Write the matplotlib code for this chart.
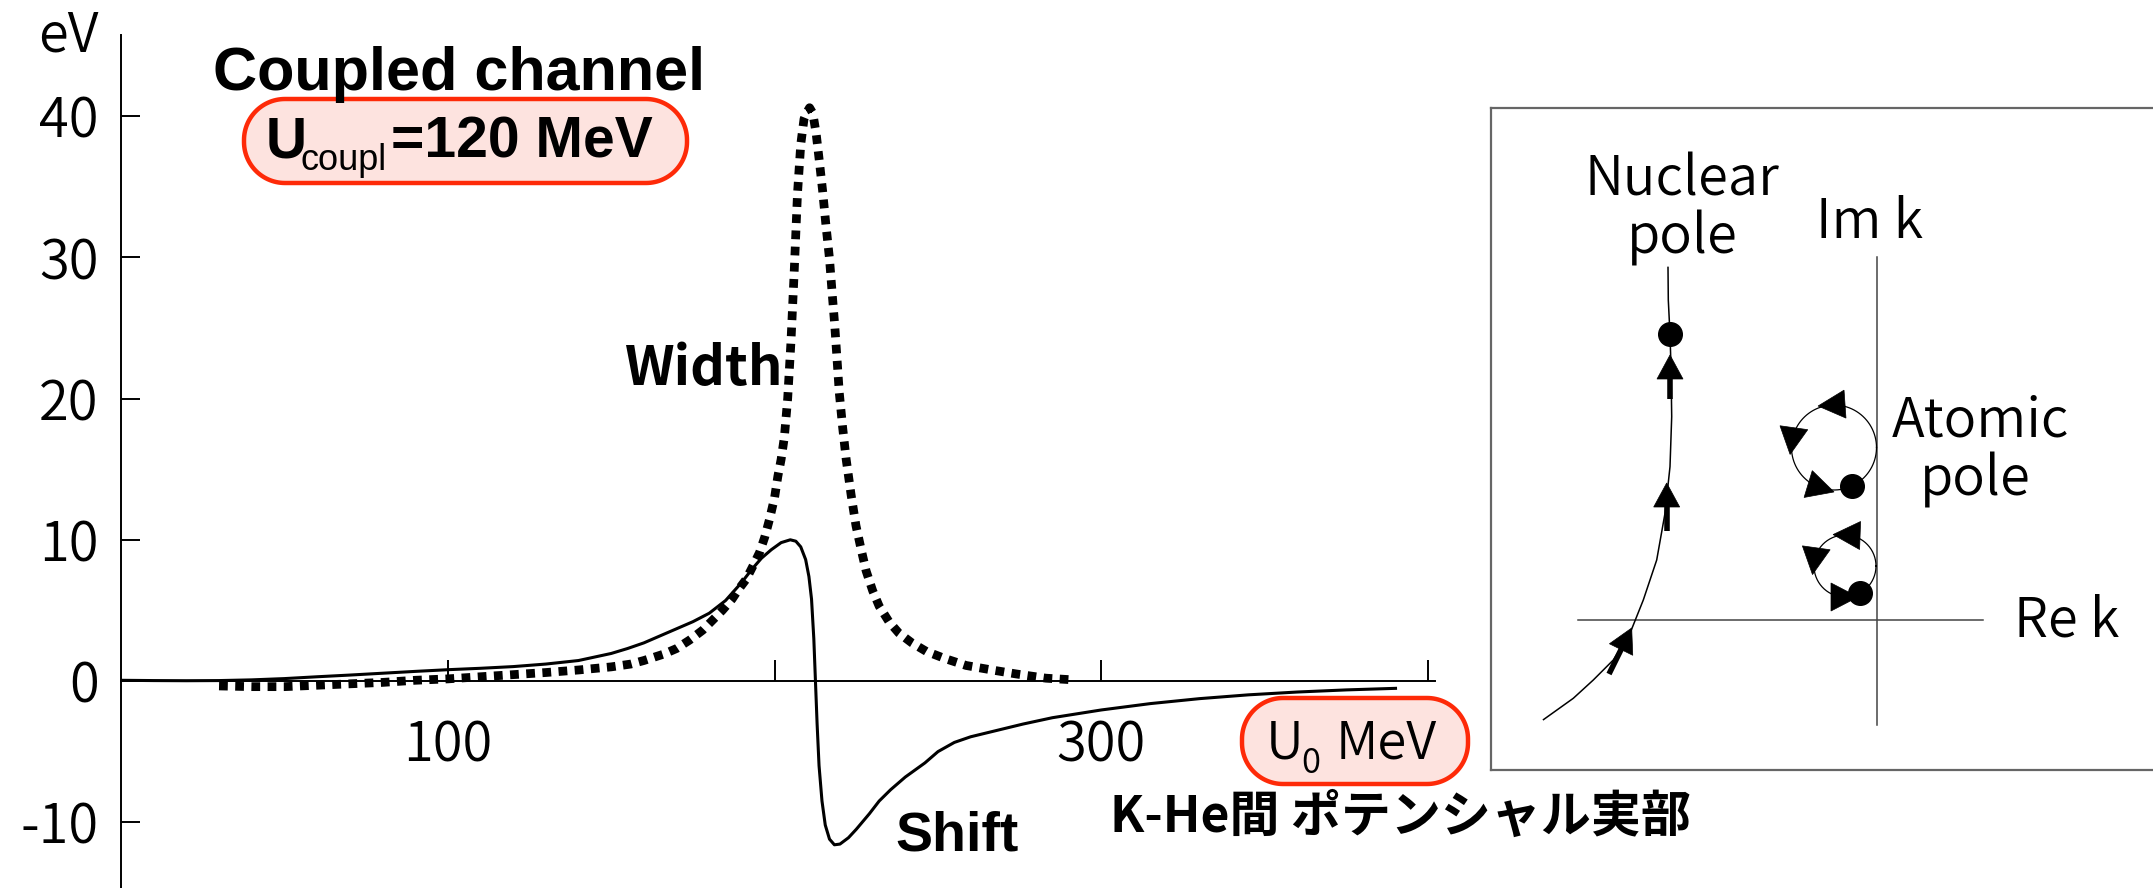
import matplotlib
matplotlib.use('Agg')
import matplotlib.pyplot as plt
from matplotlib.patches import Polygon
import numpy as np

# ---------------- data ----------------
width_u = [30, 40, 50, 60, 70, 80, 90, 100, 110, 120, 130, 140, 150, 156, 160, 166,
           170, 174, 178, 181, 184, 187, 189, 191.3, 193.5, 195.4, 197, 198.5, 200,
           201, 202, 203, 204, 205, 206, 207, 208, 209, 209.7, 210.7, 211.7, 212.7,
           213.7, 214.7, 215.7, 216.8, 217.6, 218.4, 219.8, 220.8, 221.9, 223.4,
           224.9, 226.5, 228, 230, 232, 235, 238, 242, 246.4, 252, 258.6, 266,
           273.9, 283, 290]
width_ev = [-0.35, -0.4, -0.4, -0.3, -0.2, -0.1, 0.05, 0.15, 0.3, 0.45, 0.6, 0.78,
            1.0, 1.2, 1.45, 1.9, 2.3, 2.9, 3.6, 4.3, 5.0, 5.8, 6.5, 7.2, 8.2, 9.1,
            10.2, 11.5, 13, 14.5, 15.7, 17.3, 20, 24, 29, 34.5, 38, 39.8, 40.2,
            40.6, 40.2, 38.8, 36.8, 34.7, 32.3, 29.9, 27.5, 25.2, 20.4, 18, 15.7,
            13.2, 11, 9.3, 7.8, 6.4, 5.3, 4.2, 3.4, 2.7, 2.1, 1.6, 1.1, 0.8, 0.5,
            0.2, 0.1]

shift_u = [0, 10, 20, 30, 40, 50, 60, 70, 80, 90, 100, 110, 120, 130, 140, 150, 155,
           160, 165, 170, 175, 180, 185, 190, 193, 196, 199, 202, 204.8, 206.5, 208,
           209.5, 210.5, 211.3, 212, 212.5, 213, 213.6, 214.5, 215.5, 216.8, 218.3,
           220, 222.6, 225, 229, 232, 235.5, 240, 246, 250, 255, 260, 268, 276,
           285, 300, 315, 330, 345, 360, 375, 390]
shift_ev = [0.05, 0.03, 0.02, 0.03, 0.08, 0.17, 0.3, 0.42, 0.55, 0.68, 0.8, 0.9,
            1.02, 1.2, 1.45, 1.95, 2.3, 2.7, 3.2, 3.7, 4.2, 4.8, 5.7, 7.0, 7.9,
            8.7, 9.3, 9.8, 10.0, 9.9, 9.5, 8.6, 7.4, 5.8, 3.0, 0.0, -3.0, -6.0,
            -8.5, -10.2, -11.2, -11.6, -11.55, -11.1, -10.5, -9.4, -8.5, -7.7,
            -6.8, -5.8, -5.0, -4.35, -3.95, -3.5, -3.05, -2.6, -2.05, -1.6, -1.25,
            -0.98, -0.78, -0.63, -0.52]

x_ticks = [100, 200, 300, 400]
x_ticklabels = ['100', '', '300', '']
y_ticks = [-10, 0, 10, 20, 30, 40]
y_ticklabels = ['-10', '0', '10', '20', '30', '40']

# ---------------- inset schematic (complex k plane) ----------------
nuc_x = [-333.5, -303.7, -283.7, -263.7, -247, -233.7, -220.3, -212, -207, -205.3,
         -206, -207, -208.7, -209]
nuc_y = [-99.6, -78.3, -60, -40, -13.3, 20, 60, 106.7, 153.3, 203.3, 253.3, 285.7,
         320, 352.6]
nuc_pole = (-207, 285.7)
nuc_arrow_tail = [(-268, -54), (-210.3, 89), (-207, 221)]
nuc_arrow_tip = [(-245.3, -8), (-210.3, 137), (-207, 265)]

loop_center = [(-43, 172.5), (-32, 54)]
loop_radius = [42.5, 31]
loop_pole_angle = [-65, -61]
loop_arrow_angles = [[94, 172, 253], [88, 172, 270]]

W, H = 2153, 888
DPI = 100
JP = ['Noto Sans CJK JP', 'DejaVu Sans']
SANS = ['Liberation Sans', 'DejaVu Sans']
THIN = 350

fig = plt.figure(figsize=(W / DPI, H / DPI), dpi=DPI)
fig.patch.set_facecolor('white')

# overlay axes in pixel coordinates (for labels and boxes)
ov = fig.add_axes([0, 0, 1, 1], zorder=0)
ov.set_xlim(0, W)
ov.set_ylim(H, 0)
ov.axis('off')

# ---------------- main axes ----------------
ax = fig.add_axes([121 / W, 0, (405 * 3.268) / W, (H - 35) / H], zorder=1)
ax.set_xlim(0, 405)
ax.set_ylim(-14.66, 45.75)
ax.set_facecolor('none')

ax.plot(shift_u, shift_ev, color='black', lw=2.2, solid_joinstyle='round', zorder=3)
ax.plot(width_u, width_ev, color='black', lw=6.3, linestyle=(0, (1.0, 0.85)),
        dash_capstyle='butt', zorder=4)

for s in ['top', 'right']:
    ax.spines[s].set_visible(False)
ax.spines['bottom'].set_position(('data', 0))
ax.spines['bottom'].set_bounds(0, 402)
ax.spines['bottom'].set_linewidth(1.4)
ax.spines['left'].set_linewidth(1.4)

ax.set_xticks(x_ticks)
ax.set_xticklabels(x_ticklabels, fontfamily=JP, fontsize=39, fontweight=THIN)
ax.set_yticks(y_ticks)
ax.set_yticklabels(y_ticklabels, fontfamily=JP, fontsize=39, fontweight=THIN)
ax.tick_params(axis='x', direction='in', length=15, width=1.4, pad=27)
ax.tick_params(axis='y', direction='in', length=14, width=1.4, pad=16)

# ---------------- texts & boxes (pixel coordinates) ----------------
RED = '#fe2a08'
PINK = '#fde3df'


def rounded_box(a, x, y, w, h, r):
    pts = []
    corners = [((x + w - r, y + r), -90, 0), ((x + w - r, y + h - r), 0, 90),
               ((x + r, y + h - r), 90, 180), ((x + r, y + r), 180, 270)]
    for (cx, cy), a0, a1 in corners:
        t = np.radians(np.linspace(a0, a1, 30))
        pts.extend(zip(cx + r * np.cos(t), cy + r * np.sin(t)))
    a.add_patch(Polygon(pts, closed=True, facecolor=PINK, edgecolor=RED, lw=3.2,
                        joinstyle='round'))


ov.text(68, 52, 'eV', fontsize=39, family=JP, weight=THIN, ha='center', va='baseline')
ov.text(213, 90, 'Coupled channel', fontsize=44, weight='bold', family=SANS,
        ha='left', va='baseline')

rounded_box(ov, 244, 99, 687 - 244, 183 - 99, 41)
ov.text(266, 158, 'U', fontsize=41, weight='bold', family=SANS, ha='left', va='baseline')
ov.text(301, 170, 'coupl', fontsize=26, family=SANS, ha='left', va='baseline')
ov.text(391, 158, '=120 MeV', fontsize=41, weight='bold', family=SANS,
        ha='left', va='baseline')

rounded_box(ov, 1242, 698, 1468 - 1242, 784 - 698, 41)
ov.text(1266, 758, 'U', fontsize=38, family=JP, weight=THIN, ha='left', va='baseline')
ov.text(1301, 773, '0', fontsize=25, family=JP, weight=THIN, ha='left', va='baseline')
ov.text(1336, 758, 'MeV', fontsize=38, family=JP, weight=THIN, ha='left', va='baseline')

ov.text(625, 385, 'Width', fontsize=39, weight='bold', family=JP, ha='left', va='baseline')
ov.text(895, 850, 'Shift', fontsize=40, weight='bold', family=SANS, ha='left',
        va='baseline')
ov.text(1110, 832, 'K-He間 ポテンシャル実部', fontsize=36, weight='bold', family=JP,
        ha='left', va='baseline')

# ---------------- inset ----------------
x0, y0 = 1877, 620
ix0, ix1, iy0, iy1 = 1491, 2170, 108, 770
ins = fig.add_axes([ix0 / W, 1 - iy1 / H, (ix1 - ix0) / W, (iy1 - iy0) / H], zorder=2)
ins.set_xlim(ix0 - x0, ix1 - x0)
ins.set_ylim(y0 - iy1, y0 - iy0)
ins.set_xticks([])
ins.set_yticks([])
for s in ins.spines.values():
    s.set_edgecolor('#666666')
    s.set_linewidth(1.6)

ins.plot([0, 0], [-105, 363], color='#444444', lw=1.1)
ins.plot([-299, 106], [0, 0], color='#444444', lw=1.1)

ins.plot(nuc_x, nuc_y, color='black', lw=1.1)
ins.plot(*nuc_pole, 'o', color='black', ms=17, zorder=5)


def triangle(a, tip, d, L=24, Wd=26):
    d = np.asarray(d, float)
    d = d / np.hypot(*d)
    n = np.array([-d[1], d[0]])
    tip = np.asarray(tip, float)
    base = tip - d * L
    pts = [tip, base + n * Wd / 2, base - n * Wd / 2]
    a.add_patch(Polygon(pts, closed=True, facecolor='black', edgecolor='black',
                        lw=0.5, zorder=6))


for tail, tip in zip(nuc_arrow_tail, nuc_arrow_tip):
    tail = np.asarray(tail, float)
    tip = np.asarray(tip, float)
    d = tip - tail
    d = d / np.hypot(*d)
    stem_end = tip - d * 20
    ins.plot([tail[0], stem_end[0]], [tail[1], stem_end[1]],
             color='black', lw=4.0, solid_capstyle='butt', zorder=5)
    triangle(ins, tip, d)

for c, r, pa, angs in zip(loop_center, loop_radius, loop_pole_angle, loop_arrow_angles):
    t = np.linspace(0, 2 * np.pi, 200)
    ins.plot(c[0] + r * np.cos(t), c[1] + r * np.sin(t), color='black', lw=0.9)
    ins.plot(c[0] + r * np.cos(np.radians(pa)), c[1] + r * np.sin(np.radians(pa)),
             'o', color='black', ms=17, zorder=5)
    for ang in angs:
        th = np.radians(ang)
        p = np.array([c[0] + r * np.cos(th), c[1] + r * np.sin(th)])
        d = np.array([-np.sin(th), np.cos(th)])
        triangle(ins, p + d * 13, d, L=27, Wd=28)

ins.text(-195, 424, 'Nuclear', fontsize=39, family=JP, weight=THIN, ha='center',
         va='baseline')
ins.text(-195, 367, 'pole', fontsize=39, family=JP, weight=THIN, ha='center',
         va='baseline')
ins.text(-7, 382, 'Im k', fontsize=39, family=JP, weight=THIN, ha='center', va='baseline')
ins.text(103, 184, 'Atomic', fontsize=39, family=JP, weight=THIN, ha='center',
         va='baseline')
ins.text(98, 125, 'pole', fontsize=39, family=JP, weight=THIN, ha='center', va='baseline')
ins.text(137, -16, 'Re k', fontsize=39, family=JP, weight=THIN, ha='left', va='baseline')

fig.savefig('out.png', dpi=DPI)
